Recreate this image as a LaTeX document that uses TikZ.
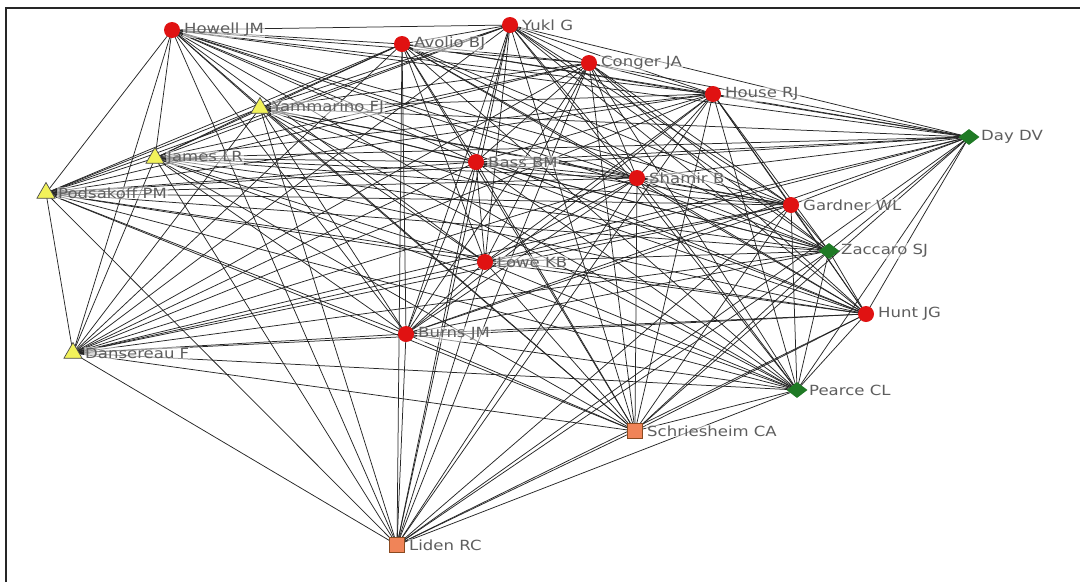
\documentclass[tikz,border=0pt]{standalone}
\usepackage{fontspec}
\newfontfamily\lblfont[FakeStretch=1.18]{DejaVu Sans}
\usetikzlibrary{shapes.geometric}
\definecolor{nodered}{HTML}{E01212}
\definecolor{triyel}{HTML}{F2F25A}
\definecolor{diagreen}{HTML}{1F7A25}
\definecolor{sqorange}{HTML}{F08458}
\definecolor{sqedge}{HTML}{8A4A20}
\definecolor{labgrey}{HTML}{5E5E5E}
\begin{document}
\begin{tikzpicture}[x=1pt,y=-1pt,
  edge/.style={draw=black!85,line width=0.75pt},
  circ/.style={circle,fill=nodered,minimum size=16pt,inner sep=0pt},
  tria/.style={regular polygon,regular polygon sides=3,fill=triyel,draw=black!70,line width=0.7pt,minimum size=21pt,inner sep=0pt},
  diam/.style={diamond,fill=diagreen,minimum width=21pt,minimum height=16pt,inner sep=0pt},
  sqr/.style={rectangle,fill=sqorange,draw=sqedge,line width=0.6pt,minimum size=15pt,inner sep=0pt},
  lbl/.style={font=\lblfont\fontsize{14}{16}\selectfont,text=labgrey,anchor=west,inner sep=1pt,
    fill=white,fill opacity=0.5,text opacity=1},
  frame/.style={draw=black!85,line width=2pt}]
\useasboundingbox (0,0) rectangle (1080,582);
\fill[white] (0,0) rectangle (1080,582);
\coordinate (fa) at (6,582);
\coordinate (fb) at (6,8);
\coordinate (fc) at (1080,8);
\draw[frame] (fa) -- (fb) -- (fc);
% node positions
\foreach \n/\x/\y in {1/172/30, 2/510/25, 3/402/44, 4/589/63, 5/713/94,
  6/260/108, 7/969/137, 8/155/158, 9/476/162, 10/637/178, 11/46/193,
  12/791/205, 13/829/251, 14/485/262, 15/866/314, 16/406/334,
  17/73/353, 18/797/390, 19/635/431, 20/397/545}
  \coordinate (p\n) at (\x,\y);
% connectors
\foreach \i in {1,...,19}{
  \pgfmathtruncatemacro\s{\i+1}
  \foreach \j in {\s,...,20}{
    \draw[edge] (p\i) -- (p\j);
  }
}
% nodes and labels
\foreach \n/\st/\t in {1/circ/Howell JM, 2/circ/Yukl G, 3/circ/Avolio BJ,
  4/circ/Conger JA, 5/circ/House RJ, 6/tria/Yammarino FJ, 7/diam/Day DV,
  8/tria/James LR, 9/circ/Bass BM, 10/circ/Shamir B, 11/tria/Podsakoff PM,
  12/circ/Gardner WL, 13/diam/Zaccaro SJ, 14/circ/Lowe KB, 15/circ/Hunt JG,
  16/circ/Burns JM, 17/tria/Dansereau F, 18/diam/Pearce CL,
  19/sqr/Schriesheim CA, 20/sqr/Liden RC}{
  \node[\st] (n\n) at (p\n) {};
  \node[lbl] (l\n) at ([xshift=11pt]p\n) {\t};
}
\end{tikzpicture}
\end{document}
